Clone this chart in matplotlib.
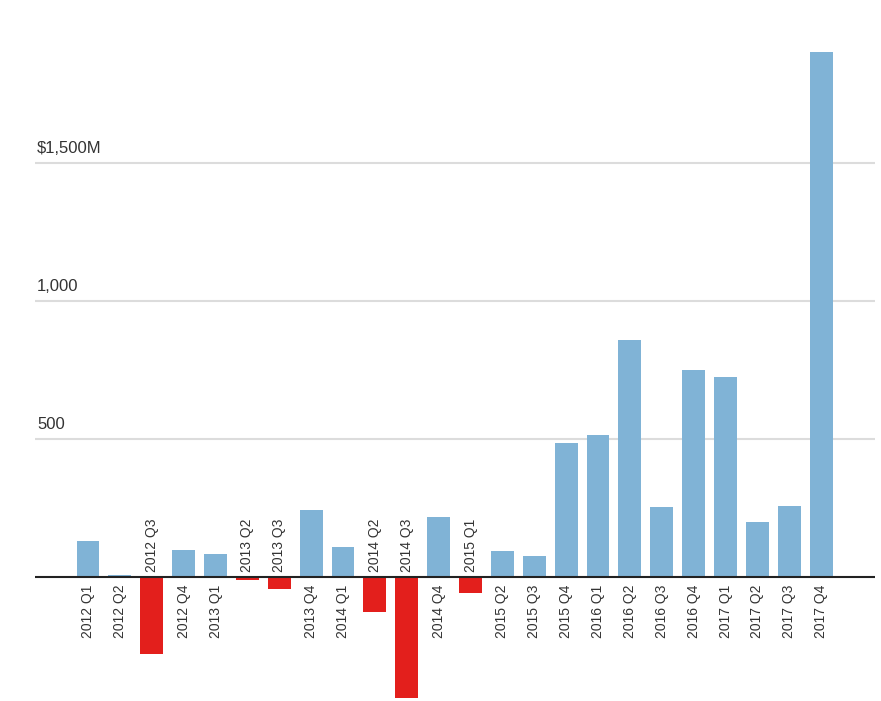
import matplotlib.pyplot as plt

quarters = [
    "2012 Q1", "2012 Q2", "2012 Q3", "2012 Q4",
    "2013 Q1", "2013 Q2", "2013 Q3", "2013 Q4",
    "2014 Q1", "2014 Q2", "2014 Q3", "2014 Q4",
    "2015 Q1", "2015 Q2", "2015 Q3", "2015 Q4",
    "2016 Q1", "2016 Q2", "2016 Q3", "2016 Q4",
    "2017 Q1", "2017 Q2", "2017 Q3", "2017 Q4",
]
values = [
    130, 5, -279, 98,
    82, -11, -43, 243,
    108, -129, -440, 216,
    -60, 92, 76, 485,
    514, 859, 252, 750,
    725, 198, 258, 1903,
]
ytick_values = [500, 1000, 1500]
ytick_labels = ["500", "1,000", "$1,500M"]

blue = "#80b3d6"
red = "#e31f1c"
text_color = "#333333"

plt.rcParams["font.family"] = ["Liberation Sans", "DejaVu Sans"]

fig = plt.figure(figsize=(8.81, 7.01), dpi=100)
ax = fig.add_axes([35 / 881, 0, 840 / 881, 676 / 701])

x = list(range(len(values)))
colors = [blue if v >= 0 else red for v in values]
ax.bar(x, values, width=0.72, color=colors, zorder=2)

ax.set_xlim(-1.663, 24.69)
ax.set_ylim(-450, 2000)

for v in ytick_values:
    ax.axhline(v, color="#dcdcdc", linewidth=1.5, zorder=1)
ax.axhline(0, color="#222222", linewidth=1.5, zorder=3)

for v, lab in zip(ytick_values, ytick_labels):
    ax.annotate(lab, xy=(0, v), xycoords=("axes fraction", "data"),
                xytext=(2, 10), textcoords="offset pixels",
                ha="left", va="baseline", fontsize=12, color=text_color)

for i, (q, v) in enumerate(zip(quarters, values)):
    if v >= 0:
        ax.annotate(q, xy=(i, 0), xytext=(0, -8), textcoords="offset pixels",
                    rotation=90, ha="center", va="top", fontsize=10,
                    color=text_color)
    else:
        ax.annotate(q, xy=(i, 0), xytext=(0, 5), textcoords="offset pixels",
                    rotation=90, ha="center", va="bottom", fontsize=10,
                    color=text_color)

ax.axis("off")
fig.savefig("out.png", dpi=100, facecolor="white")
